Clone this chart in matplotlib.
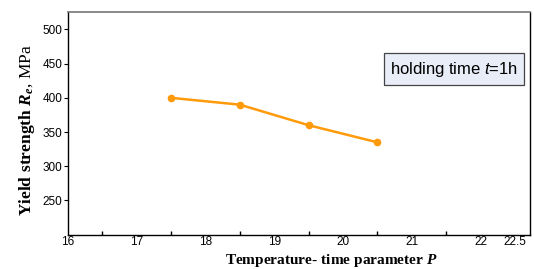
import matplotlib

matplotlib.use("Agg")
import matplotlib.pyplot as plt

plt.rcParams["mathtext.fontset"] = "custom"
plt.rcParams["mathtext.rm"] = "Liberation Serif"
plt.rcParams["mathtext.bf"] = "Liberation Serif:bold"
plt.rcParams["mathtext.bfit"] = "Liberation Serif:bold:italic"
plt.rcParams["mathtext.it"] = "Liberation Sans:italic"

# data
param_p = [17.5, 18.5, 19.5, 20.5]
yield_strength = [400, 390, 360, 335]

x_label_pos = [16, 17, 18, 19, 20, 21, 22, 22.5]
x_label_text = ["16", "17", "18", "19", "20", "21", "22", "22.5"]
x_mark_pos = [16.5, 17.5, 18.5, 19.5, 20.5, 21.5, 22, 22.5]
y_ticks = [250, 300, 350, 400, 450, 500]

fig = plt.figure(figsize=(5.34, 2.69), dpi=100)
ax = fig.add_axes([0.1273, 0.1275, 0.8652, 0.8268])

ax.plot(param_p, yield_strength, color="#ff9a0a", linewidth=1.8,
        marker="o", markersize=4.5, zorder=3)

ax.set_xlim(16, 22.72)
ax.set_ylim(200, 525)

ax.set_xticks(x_label_pos)
ax.set_xticklabels(x_label_text, family="Liberation Sans", fontsize=8.5)
ax.set_xticks(x_mark_pos, minor=True)
ax.tick_params(axis="x", which="major", length=0, pad=1)
ax.tick_params(axis="x", which="minor", direction="in", length=3, width=1)

ax.set_yticks(y_ticks)
ax.set_yticklabels([str(v) for v in y_ticks], family="Liberation Sans", fontsize=8.5)
ax.tick_params(axis="y", direction="out", length=3, width=0.8, pad=1)

for side in ("left", "bottom", "right"):
    ax.spines[side].set_color("black")
    ax.spines[side].set_linewidth(1.0)
ax.spines["top"].set_color("#777777")
ax.spines["top"].set_linewidth(1.2)

ax.set_xlabel(r"$\mathbf{Temperature\text{-}\ time\ parameter}\ \mathbfit{P}$",
              family="Liberation Serif", fontsize=11)
ax.xaxis.set_label_coords(0.571, -0.078, transform=ax.transAxes)
ax.xaxis.label.set_va("top")
ax.set_ylabel(r"$\mathbf{Yield\ strength}\ \mathbfit{R_e}$, MPa",
              family="Liberation Serif", fontsize=12.5)
ax.yaxis.set_label_coords(-0.089, 0.471, transform=ax.transAxes)
ax.yaxis.label.set_va("center")

ax.text(0.8355, 0.745, r"holding time $\mathit{t}$=1h", transform=ax.transAxes,
        ha="center", va="center", family="Liberation Sans", fontsize=12,
        bbox=dict(boxstyle="square,pad=0.38", facecolor="#e9edf8",
                  edgecolor="#444444", linewidth=0.9))

fig.savefig("out.png", dpi=100)
